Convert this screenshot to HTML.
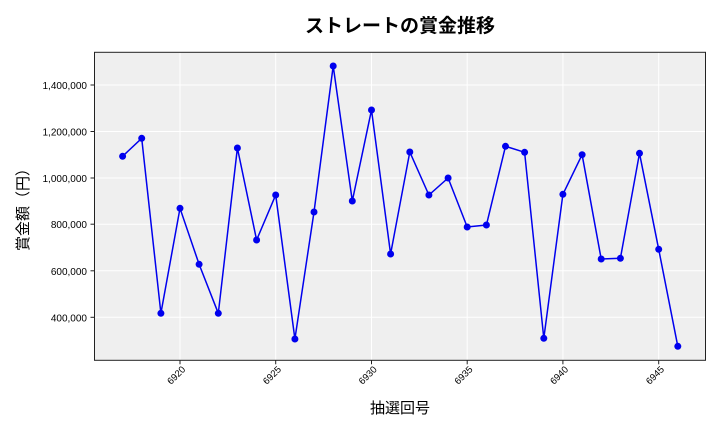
<!DOCTYPE html>
<html><head><meta charset="utf-8"><style>body{margin:0;background:#fff}svg{display:block}</style></head><body>
<svg width="720" height="432" xmlns="http://www.w3.org/2000/svg" font-family="Liberation Sans, Noto Sans CJK JP, sans-serif">
<rect x="0" y="0" width="720" height="432" fill="#fff"/>
<text x="400" y="32" text-anchor="middle" font-size="19" font-weight="bold" font-family="Noto Sans CJK JP, sans-serif">ストレートの賞金推移</text>
<rect x="94.5" y="52.3" width="611" height="308" fill="#efefef"/>
<g stroke="#fff" stroke-width="1">
<line x1="94.5" x2="705.5" y1="85" y2="85"/><line x1="94.5" x2="705.5" y1="131.5" y2="131.5"/><line x1="94.5" x2="705.5" y1="178" y2="178"/><line x1="94.5" x2="705.5" y1="224.2" y2="224.2"/><line x1="94.5" x2="705.5" y1="270.8" y2="270.8"/><line x1="94.5" x2="705.5" y1="317.3" y2="317.3"/>
<line y1="52.3" y2="360.3" x1="180" x2="180"/><line y1="52.3" y2="360.3" x1="275.7" x2="275.7"/><line y1="52.3" y2="360.3" x1="371.5" x2="371.5"/><line y1="52.3" y2="360.3" x1="467.2" x2="467.2"/><line y1="52.3" y2="360.3" x1="562.9" x2="562.9"/><line y1="52.3" y2="360.3" x1="658.7" x2="658.7"/>
</g>
<rect x="94.5" y="52.3" width="611" height="308" fill="none" stroke="#222" stroke-width="1"/>
<g stroke="#222"><line x1="90.5" x2="94.5" y1="85" y2="85"/><line x1="90.5" x2="94.5" y1="131.5" y2="131.5"/><line x1="90.5" x2="94.5" y1="178" y2="178"/><line x1="90.5" x2="94.5" y1="224.2" y2="224.2"/><line x1="90.5" x2="94.5" y1="270.8" y2="270.8"/><line x1="90.5" x2="94.5" y1="317.3" y2="317.3"/>
<line y1="360.3" y2="364.3" x1="180" x2="180"/><line y1="360.3" y2="364.3" x1="275.7" x2="275.7"/><line y1="360.3" y2="364.3" x1="371.5" x2="371.5"/><line y1="360.3" y2="364.3" x1="467.2" x2="467.2"/><line y1="360.3" y2="364.3" x1="562.9" x2="562.9"/><line y1="360.3" y2="364.3" x1="658.7" x2="658.7"/></g>
<g font-size="10" text-anchor="end" fill="#000">
<text x="87" y="89">1,400,000</text><text x="87" y="135.5">1,200,000</text><text x="87" y="182">1,000,000</text><text x="87" y="228.2">800,000</text><text x="87" y="274.8">600,000</text><text x="87" y="321.3">400,000</text>
<text transform="translate(186,370) rotate(-45)" font-size="9.5">6920</text>
<text transform="translate(281.7,370) rotate(-45)" font-size="9.5">6925</text>
<text transform="translate(377.5,370) rotate(-45)" font-size="9.5">6930</text>
<text transform="translate(473.2,370) rotate(-45)" font-size="9.5">6935</text>
<text transform="translate(568.9,370) rotate(-45)" font-size="9.5">6940</text>
<text transform="translate(664.7,370) rotate(-45)" font-size="9.5">6945</text>
</g>
<text x="400" y="413" text-anchor="middle" font-size="15" font-family="Noto Sans CJK JP, sans-serif">抽選回号</text>
<text transform="translate(28,206) rotate(-90)" text-anchor="middle" font-size="15" font-family="Noto Sans CJK JP, sans-serif">賞金額（円）</text>
<polyline fill="none" stroke="#0000ee" stroke-width="1.5" points="122.6,156.3 141.7,138.3 160.9,313.3 180,208.3 199.1,264.3 218.3,313.3 237.4,148 256.6,240 275.7,195 294.9,339 314,212 333.2,66 352.3,201 371.5,110 390.6,254 409.8,152 428.9,195 448.1,178 467.2,227 486.4,225 505.5,146.3 524.6,152.3 543.8,338.3 562.9,194.3 582.1,154.7 601.2,259 620.4,258.3 639.5,153.3 658.7,249.3 677.8,346.3"/>
<g fill="#0000ee">
<circle cx="122.6" cy="156.3" r="3.5"/><circle cx="141.7" cy="138.3" r="3.5"/><circle cx="160.9" cy="313.3" r="3.5"/><circle cx="180" cy="208.3" r="3.5"/><circle cx="199.1" cy="264.3" r="3.5"/><circle cx="218.3" cy="313.3" r="3.5"/><circle cx="237.4" cy="148" r="3.5"/><circle cx="256.6" cy="240" r="3.5"/><circle cx="275.7" cy="195" r="3.5"/><circle cx="294.9" cy="339" r="3.5"/><circle cx="314" cy="212" r="3.5"/><circle cx="333.2" cy="66" r="3.5"/><circle cx="352.3" cy="201" r="3.5"/><circle cx="371.5" cy="110" r="3.5"/><circle cx="390.6" cy="254" r="3.5"/><circle cx="409.8" cy="152" r="3.5"/><circle cx="428.9" cy="195" r="3.5"/><circle cx="448.1" cy="178" r="3.5"/><circle cx="467.2" cy="227" r="3.5"/><circle cx="486.4" cy="225" r="3.5"/><circle cx="505.5" cy="146.3" r="3.5"/><circle cx="524.6" cy="152.3" r="3.5"/><circle cx="543.8" cy="338.3" r="3.5"/><circle cx="562.9" cy="194.3" r="3.5"/><circle cx="582.1" cy="154.7" r="3.5"/><circle cx="601.2" cy="259" r="3.5"/><circle cx="620.4" cy="258.3" r="3.5"/><circle cx="639.5" cy="153.3" r="3.5"/><circle cx="658.7" cy="249.3" r="3.5"/><circle cx="677.8" cy="346.3" r="3.5"/>
</g>
</svg>
</body></html>
